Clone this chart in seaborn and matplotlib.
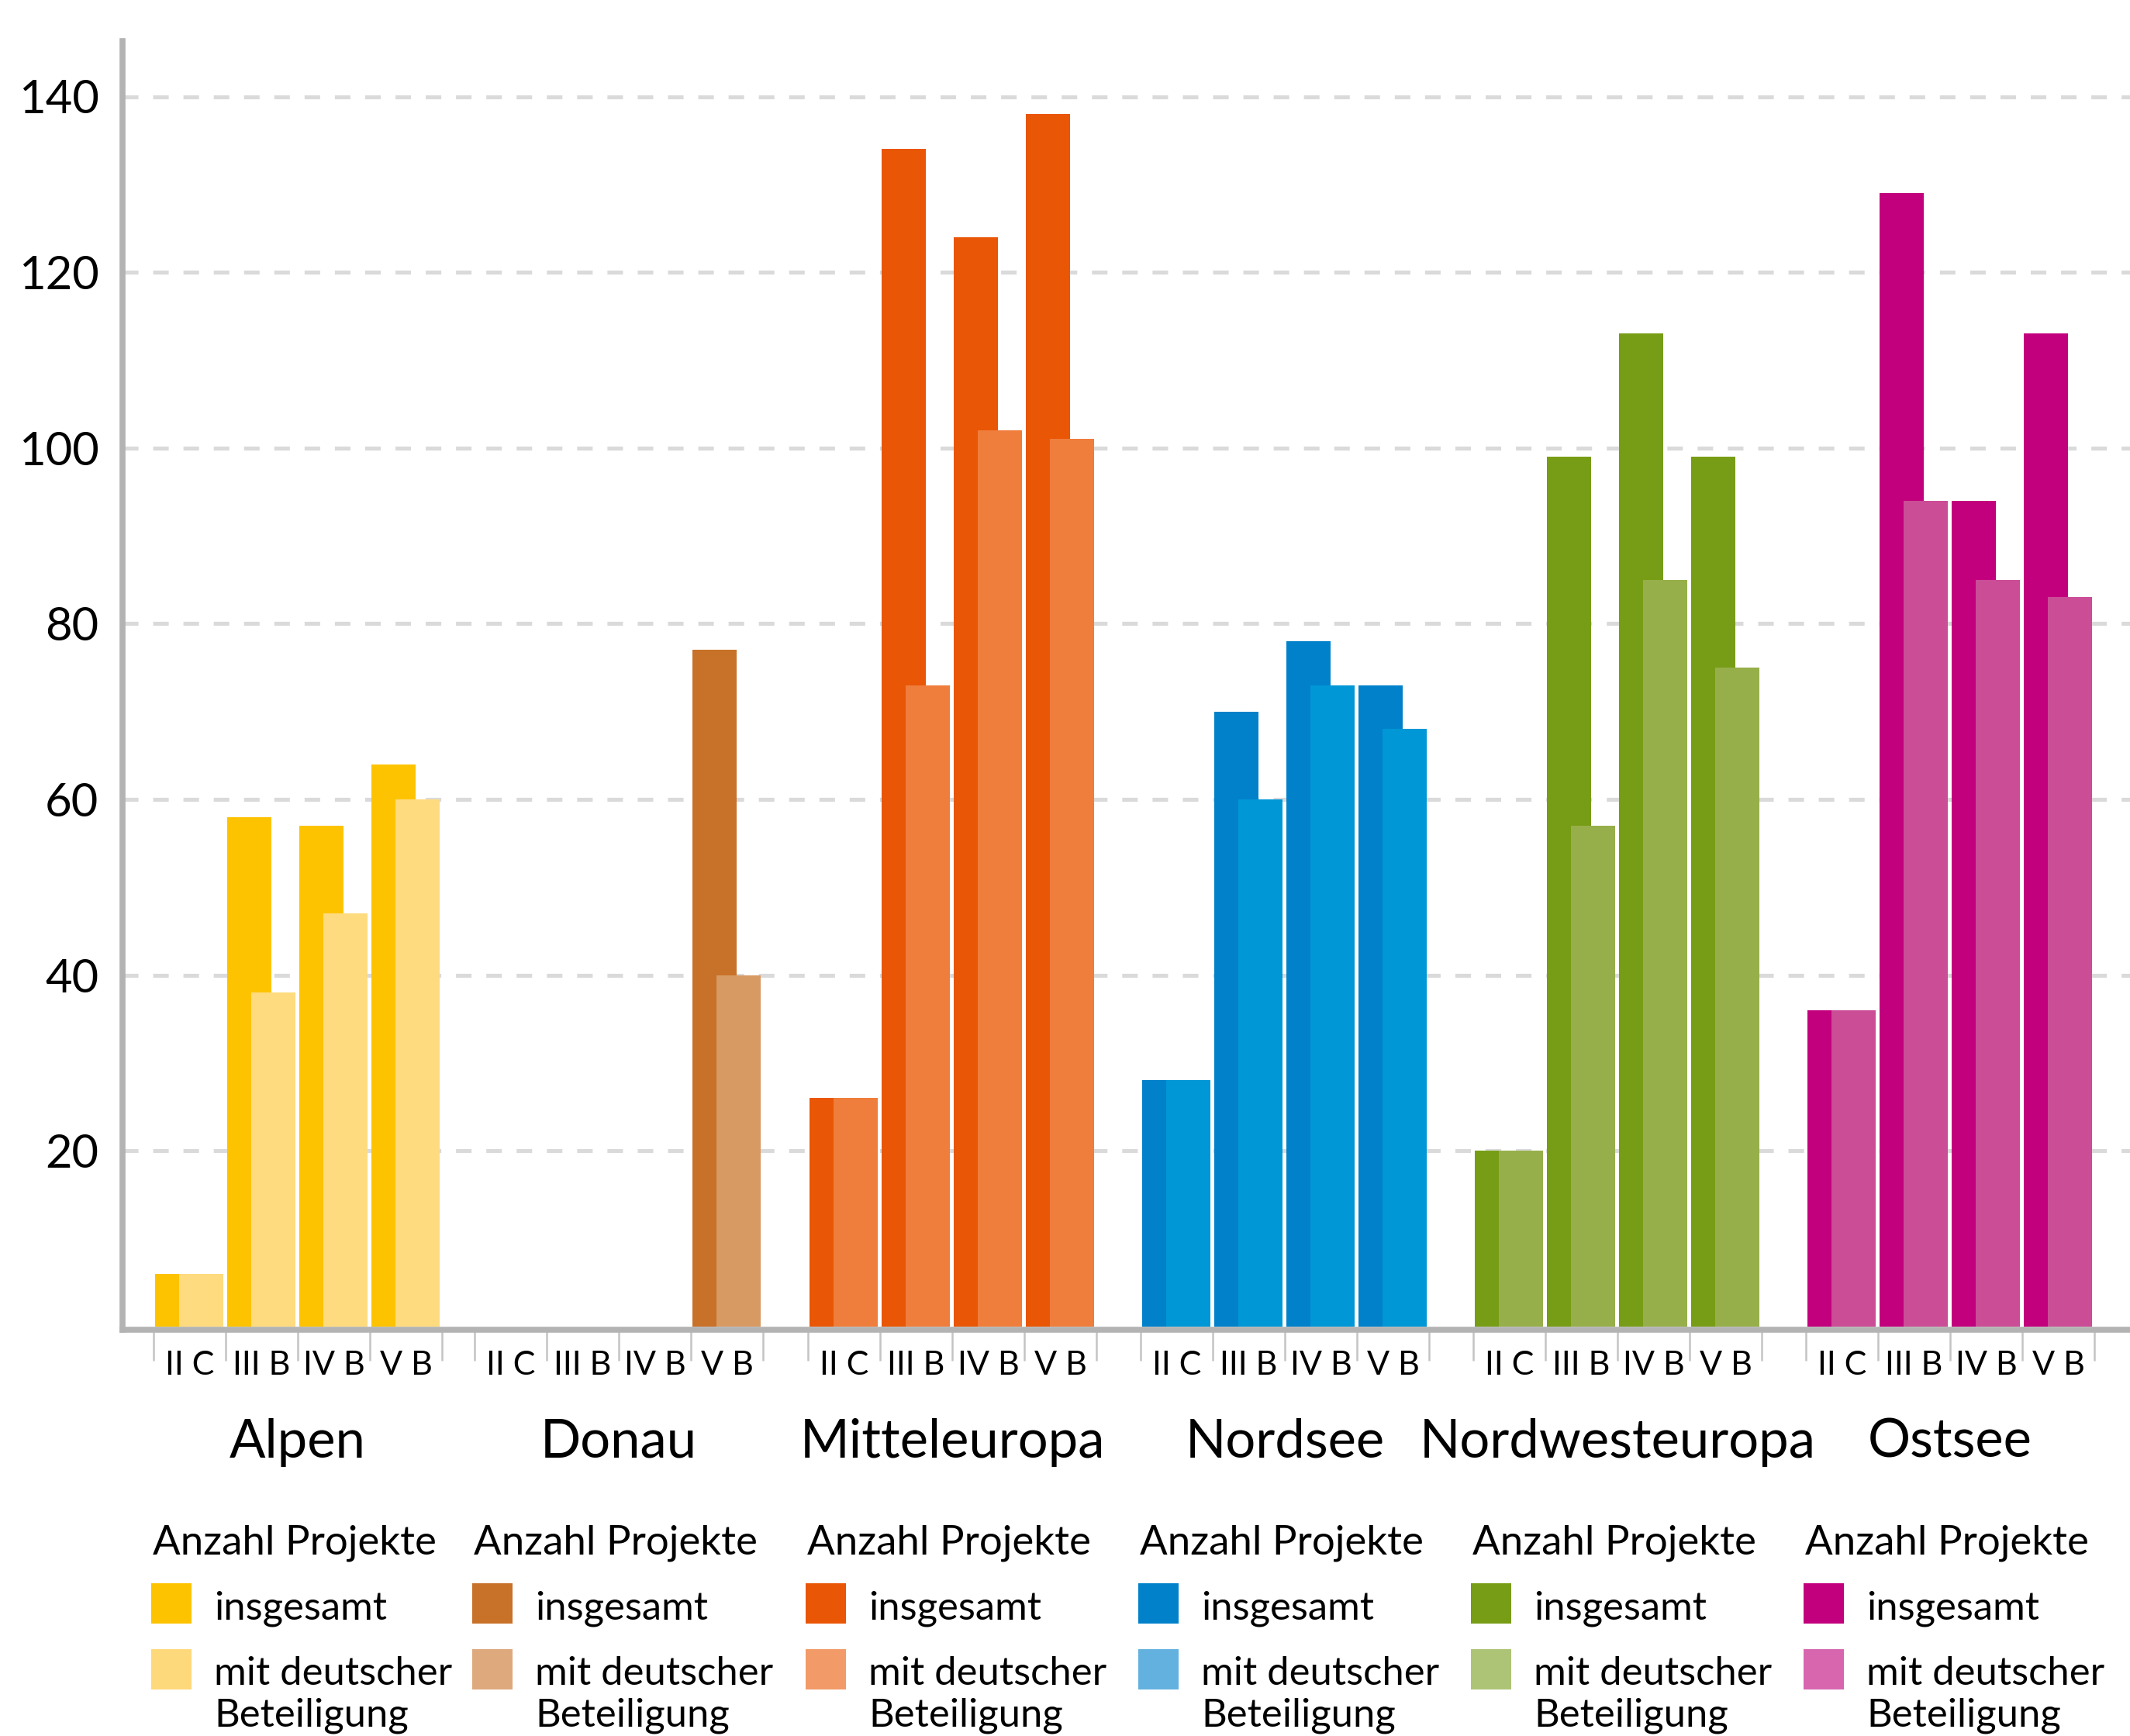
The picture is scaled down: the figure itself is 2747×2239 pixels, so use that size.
import numpy as np
import pandas as pd
import matplotlib
matplotlib.use("Agg")
import matplotlib.pyplot as plt
import seaborn as sns
from matplotlib.patches import Rectangle
from matplotlib.transforms import blended_transform_factory

# ---------------- data ----------------
regions = ["Alpen", "Donau", "Mitteleuropa", "Nordsee", "Nordwesteuropa", "Ostsee"]
periods = ["II C", "III B", "IV B", "V B"]

alpen_total = [6, 58, 57, 64]
alpen_de = [6, 38, 47, 60]
donau_total = [0, 0, 0, 77]
donau_de = [0, 0, 0, 40]
mitteleuropa_total = [26, 134, 124, 138]
mitteleuropa_de = [26, 73, 102, 101]
nordsee_total = [28, 70, 78, 73]
nordsee_de = [28, 60, 73, 68]
nordwesteuropa_total = [20, 99, 113, 99]
nordwesteuropa_de = [20, 57, 85, 75]
ostsee_total = [36, 129, 94, 113]
ostsee_de = [36, 94, 85, 83]

totals = [alpen_total, donau_total, mitteleuropa_total, nordsee_total,
          nordwesteuropa_total, ostsee_total]
germans = [alpen_de, donau_de, mitteleuropa_de, nordsee_de,
           nordwesteuropa_de, ostsee_de]

yticks = [20, 40, 60, 80, 100, 120, 140]

legend_title = "Anzahl Projekte"
label_total = "insgesamt"
label_de_1 = "mit deutscher"
label_de_2 = "Beteiligung"

dark_colors = ["#FDC300", "#C87129", "#E95605", "#0081CA", "#779D16", "#C2007D"]
light_colors = ["#FEDB7E", "#D79A62", "#EF7D3C", "#0097D6", "#97AF4A", "#CA4D96"]
legend_light_colors = ["#FED97B", "#DEA97C", "#F29A68", "#63B1DF", "#ADC476", "#D766AF"]

# ---------------- layout ----------------
W, H = 2747, 2239
SLOT = 93.0                       # px per slot
region_start_px = [198, 612, 1042, 1471, 1900, 2329]
region_start = [(p - 198) / SLOT for p in region_start_px]

rows = []
for r, reg in enumerate(regions):
    for p, per in enumerate(periods):
        s = region_start[r] + p
        rows.append(dict(region=reg, period=per,
                         x_total=round(s + 0.33, 4), x_de=round(s + 0.665, 4),
                         total=totals[r][p], de=germans[r][p]))
df = pd.DataFrame(rows)

plt.rcParams["font.family"] = ["Lato", "DejaVu Sans"]

fig = plt.figure(figsize=(W / 100, H / 100), dpi=100)
ax_left = 158
ax_bottom = 1714.5
ax_top = 53
ax = fig.add_axes([ax_left / W, 1 - ax_bottom / H, (W - ax_left) / W,
                   (ax_bottom - ax_top) / H])

pal_dark = dict(zip(regions, dark_colors))
pal_light = dict(zip(regions, light_colors))

sns.barplot(data=df, x="x_total", y="total", hue="region", palette=pal_dark,
            native_scale=True, width=0.61, dodge=False, errorbar=None,
            legend=False, saturation=1, linewidth=0, ax=ax)
sns.barplot(data=df, x="x_de", y="de", hue="region", palette=pal_light,
            native_scale=True, width=0.61, dodge=False, errorbar=None,
            legend=False, saturation=1, linewidth=0, ax=ax)

px_per_unit = 11.33
ylo = -3.8 / px_per_unit
yhi = ylo + (ax_bottom - ax_top) / px_per_unit
ax.set_ylim(ylo, yhi)
xlo = -(198 - ax_left) / SLOT
xhi = (W - 198) / SLOT
ax.set_xlim(xlo, xhi)

ax.set_xlabel("")
ax.set_ylabel("")

# spines
for side in ["top", "right"]:
    ax.spines[side].set_visible(False)
for side in ["left", "bottom"]:
    ax.spines[side].set_color("#B3B3B3")
    ax.spines[side].set_linewidth(5.5)

# grid
ax.set_axisbelow(True)
ax.set_yticks(yticks)
ax.yaxis.grid(True, color="#DADADA", linewidth=3.7, linestyle=(0, (3.9, 3.7)))
ax.xaxis.grid(False)
ax.tick_params(axis="y", length=0, pad=22, labelsize=43, labelcolor="black")

# x ticks
centers = [region_start[r] + p + 0.5 for r in range(len(regions)) for p in range(len(periods))]
bounds = [region_start[r] + p for r in range(len(regions)) for p in range(len(periods) + 1)]
ax.set_xticks(centers)
ax.set_xticklabels(periods * len(regions))
ax.set_xticks(bounds, minor=True)
ax.tick_params(axis="x", which="major", length=0, pad=19.5, labelsize=31, labelcolor="black")
ax.tick_params(axis="x", which="minor", length=29, width=1.8, color="#C4C4C4", direction="out")

def fy(px):
    return 1 - px / H

trans = blended_transform_factory(ax.transData, fig.transFigure)

# region labels
for r, reg in enumerate(regions):
    ax.text(region_start[r] + 2, fy(1880), reg, transform=trans, ha="center",
            va="baseline", fontsize=49.5, color="black")

# legends
for r in range(len(regions)):
    x0 = region_start[r]
    ax.text(x0 - 1 / SLOT, fy(2004), legend_title, transform=trans, ha="left",
            va="baseline", fontsize=38, color="black")
    ax.add_patch(Rectangle((x0 - 3 / SLOT, fy(2094)), 52 / SLOT, 52 / H,
                           transform=trans, color=dark_colors[r], clip_on=False, lw=0))
    ax.add_patch(Rectangle((x0 - 3 / SLOT, fy(2179)), 52 / SLOT, 52 / H,
                           transform=trans, color=legend_light_colors[r], clip_on=False, lw=0))
    for txt, base in [(label_total, 2088), (label_de_1, 2173), (label_de_2, 2226)]:
        ax.text(x0 + 78 / SLOT, fy(base), txt, transform=trans, ha="left",
                va="baseline", fontsize=36.5, color="black")

fig.savefig("out.png", dpi=100, facecolor="white")
